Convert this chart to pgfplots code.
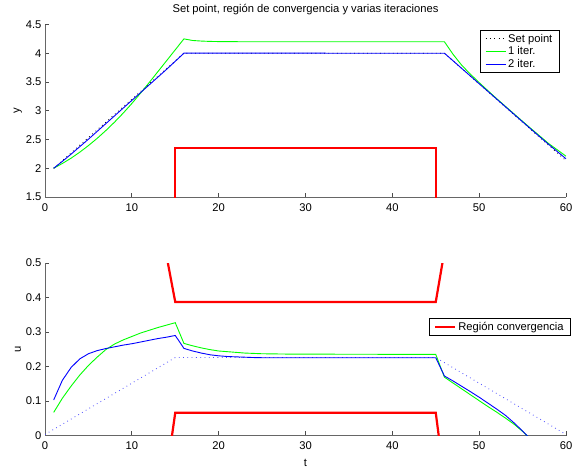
\documentclass[border=0pt]{standalone}
\usepackage{fontspec}
\setmainfont{Liberation Sans}
\usepackage{pgfplots}
\pgfplotsset{compat=1.18}
\newcommand\ff{\fontsize{11.2}{13.2}\selectfont}
\pgfplotsset{
 mstyle/.style={
  scale only axis, width=521pt, height=172.5pt,
  xmin=0, xmax=60,
  axis x line*=bottom, axis y line*=left,
  axis line style={-, black!60, line width=1pt},
  tick align=inside, major tick length=4.3pt,
  tick style={black!70, line width=0.8pt},
  xtick={0,10,...,60},
  /pgf/number format/assume math mode=true,
  tick label style={font=\ff, black},
  xticklabel style={yshift=-3pt},
  label style={font=\ff},
  legend style={font=\ff, draw=black, line width=0.8pt, fill=white, inner xsep=5pt, inner ysep=1.5pt, row sep=-1pt, cells={anchor=west}},
  legend image code/.code={\draw[#1] (0pt,0pt) -- (20pt,0pt);},
  ylabel style={at={(axis description cs:-0.052,0.5)}, anchor=center},
 }
}
\definecolor{mgreen}{RGB}{0,255,0}
\definecolor{mblue}{RGB}{0,0,255}
\definecolor{mred}{RGB}{255,0,0}
\begin{document}
\begin{tikzpicture}
\path[use as bounding box] (0pt,0pt) rectangle (578pt,-472pt);
% ---------- top axis ----------
\begin{axis}[mstyle,
  at={(45pt,-197pt)}, anchor=south west,
  ymin=1.5, ymax=4.5, ytick={1.5,2,...,4.5},
  ylabel={y},
  title={Set point, región de convergencia y varias iteraciones},
  title style={font=\ff, at={(0.5,1)}, anchor=base, yshift=6pt},
  legend style={at={(0.988,0.968)}, anchor=north east},
]
\addplot[black, line width=0.8pt, dash pattern=on 0.8pt off 3.5pt] coordinates {
(1,2) (16,4) (46,4) (60,2.133)};
\addlegendentry{Set point}
\addplot[mgreen, line width=0.9pt] coordinates {
(1,2.0) (2,2.083) (3,2.175) (4,2.279) (5,2.394) (6,2.519) (7,2.655) (8,2.801)
(9,2.958) (10,3.126) (11,3.305) (12,3.49) (13,3.68) (14,3.87) (15,4.06) (16,4.25)
(17,4.222) (18,4.212) (19,4.206) (20,4.203) (22,4.201) (25,4.2) (46,4.2)
(47,3.98) (48,3.79) (49,3.635) (50,3.49) (51,3.35) (52,3.213) (53,3.08) (54,2.948)
(55,2.816) (56,2.686) (57,2.558) (58,2.43) (59,2.32) (60,2.21)};
\addlegendentry{1 iter.}
\addplot[mblue, line width=0.9pt] coordinates {
(1,2.0) (2,2.12) (3,2.245) (4,2.375) (5,2.505) (6,2.64) (7,2.775) (8,2.91)
(9,3.045) (10,3.18) (11,3.315) (12,3.45) (13,3.585) (14,3.72) (15,3.86) (16,4.002)
(17,4.002) (46,4.0) (47,3.868) (48,3.735) (49,3.603) (50,3.47) (51,3.338) (52,3.205)
(53,3.073) (54,2.94) (55,2.808) (56,2.676) (57,2.545) (58,2.415) (59,2.29) (60,2.165)};
\addlegendentry{2 iter.}
\addplot[mred, line width=2.2pt, forget plot] coordinates {
(15,1.2) (15,2.355) (45,2.355) (45,1.2)};
\end{axis}
% ---------- bottom axis ----------
\begin{axis}[mstyle,
  at={(45pt,-435.5pt)}, anchor=south west,
  ymin=0, ymax=0.5, ytick={0,0.1,...,0.5},
  yticklabel style={/pgf/number format/fixed},
  ylabel={u}, xlabel={t},
  xlabel style={at={(axis description cs:0.5,-0.16)}, anchor=center},
  legend style={at={(1.0096,0.679)}, anchor=north east},
]
\addplot[mred, line width=2.2pt] coordinates {
(14,0.52) (15,0.387) (45,0.387) (46,0.534)};
\addlegendentry{Región convergencia}
\addplot[mred, line width=2.2pt, forget plot] coordinates {
(14,-0.11) (15,0.066) (45,0.066) (46,-0.128)};
\addplot[mblue!70, line width=0.8pt, dash pattern=on 0.8pt off 3.5pt, forget plot] coordinates {
(0,0.003) (15,0.226) (45,0.226) (60,0.003)};
\addplot[mgreen, line width=0.9pt, forget plot] coordinates {
(1,0.067) (2,0.108) (3,0.143) (4,0.175) (5,0.203) (6,0.227) (7,0.249) (8,0.265)
(9,0.277) (10,0.287) (11,0.297) (12,0.305) (13,0.313) (14,0.32) (15,0.327)
(16,0.267) (17,0.26) (18,0.254) (19,0.249) (20,0.245) (21,0.243) (22,0.241)
(23,0.239) (24,0.238) (25,0.237) (28,0.236) (45,0.235)
(46,0.169) (47,0.152) (48,0.135) (49,0.118) (50,0.101) (51,0.084) (52,0.068)
(53,0.051) (54,0.033) (55,0.012) (56,-0.012)};
\addplot[mblue, line width=0.9pt, forget plot] coordinates {
(1,0.103) (2,0.16) (3,0.197) (4,0.222) (5,0.237) (6,0.246) (7,0.252) (8,0.257)
(9,0.262) (10,0.266) (11,0.271) (12,0.276) (13,0.281) (14,0.285) (15,0.29)
(16,0.2525) (17,0.245) (18,0.239) (19,0.234) (20,0.231) (21,0.229) (22,0.228)
(23,0.227) (24,0.226) (25,0.2255) (45,0.2255)
(46,0.1725) (47,0.158) (48,0.1425) (49,0.127) (50,0.111) (51,0.094) (52,0.077)
(53,0.059) (54,0.037) (55,0.013) (56,-0.012)};
\end{axis}
\end{tikzpicture}
\end{document}
